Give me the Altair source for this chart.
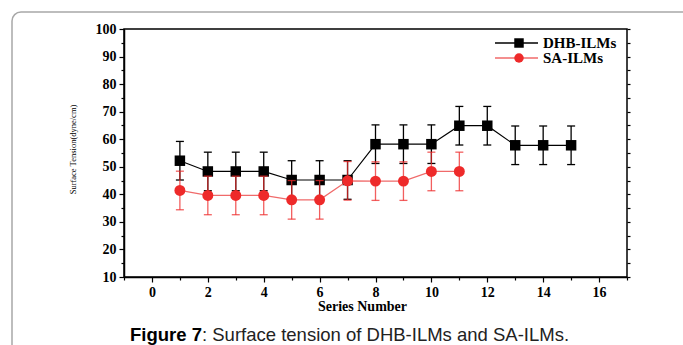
import altair as alt
import pandas as pd

# ---- data ----
dhb_series = [1, 2, 3, 4, 5, 6, 7, 8, 9, 10, 11, 12, 13, 14, 15]
dhb_tension = [52.2, 48.3, 48.3, 48.3, 45.2, 45.2, 45.2, 58.2, 58.2, 58.2, 64.9, 64.9, 57.8, 57.8, 57.8]
dhb_error = [7.0, 7.0, 7.0, 7.0, 7.0, 7.0, 7.0, 7.0, 7.0, 7.0, 7.0, 7.0, 7.0, 7.0, 7.0]

sa_series = [1, 2, 3, 4, 5, 6, 7, 8, 9, 10, 11]
sa_tension = [41.4, 39.6, 39.6, 39.6, 38.0, 38.0, 44.9, 44.8, 44.8, 48.3, 48.3]
sa_error = [7.0, 7.0, 7.0, 7.0, 7.0, 7.0, 7.0, 7.0, 7.0, 7.0, 7.0]

x_ticks = list(range(-1, 18))
y_ticks = list(range(10, 101, 5))
legend_labels = ["DHB-ILMs", "SA-ILMs"]
caption_bold = "Figure 7"
caption_rest = ": Surface tension of DHB-ILMs and SA-ILMs."

dhb = pd.DataFrame({"x": dhb_series, "y": dhb_tension, "e": dhb_error})
dhb["lo"] = dhb["y"] - dhb["e"]
dhb["hi"] = dhb["y"] + dhb["e"]
sa = pd.DataFrame({"x": sa_series, "y": sa_tension, "e": sa_error})
sa["lo"] = sa["y"] - sa["e"]
sa["hi"] = sa["y"] + sa["e"]

W, H = 503, 248
SERIF = "Liberation Serif"
xs = alt.Scale(domain=[-1, 17], nice=False, zero=False)
ys = alt.Scale(domain=[10, 100], nice=False, zero=False)

x_axis = alt.Axis(
    values=x_ticks, title="Series Number",
    labelExpr="datum.value % 2 === 0 && datum.value >= 0 && datum.value <= 16 ? datum.label : ''",
    tickSize={"condition": {"test": "datum.value % 2 === 0", "value": 5}, "value": 3},
    labelFont=SERIF, labelFontWeight="bold", labelFontSize=14, labelColor="black",
    titleFont=SERIF, titleFontWeight="bold", titleFontSize=14, titleColor="black",
    titlePadding=0, titleX=238, labelPadding=3,
    domainColor="black", domainWidth=1.5, tickColor="black", tickWidth=1.2, grid=False,
    labelFlush=False, labelOverlap=False, zindex=1,
)
y_axis = alt.Axis(
    values=y_ticks, title="Surface Tension(dyne/cm)",
    labelExpr="datum.value % 10 === 0 ? datum.label : ''",
    tickSize={"condition": {"test": "datum.value % 10 === 0", "value": 5}, "value": 3},
    labelFont=SERIF, labelFontWeight="bold", labelFontSize=14, labelColor="black",
    titleFont=SERIF, titleFontWeight="normal", titleFontSize=8.5, titleColor="black",
    titlePadding=18, titleY=120,
    domainColor="black", domainWidth=1.5, tickColor="black", tickWidth=1.2, grid=False,
    labelFlush=False, labelOverlap=False, labelPadding=3, zindex=1,
)
y_axis_right = alt.Axis(
    values=y_ticks, orient="right", labels=False, title="", tickSize=3,
    domain=False, tickColor="black", tickWidth=1.2, grid=False, zindex=1,
)

def errbars(df, color, opacity, with_axes=False):
    base = alt.Chart(df)
    xenc = alt.X("x:Q", scale=xs, axis=x_axis if with_axes else None)
    rule = base.mark_rule(color=color, strokeWidth=1.3, opacity=opacity).encode(
        x=xenc,
        y=alt.Y("lo:Q", scale=ys, axis=y_axis if with_axes else None),
        y2="hi:Q",
    )
    cap_lo = base.mark_tick(color=color, orient="horizontal", size=8, thickness=1.3, opacity=opacity).encode(
        x=alt.X("x:Q", scale=xs, axis=None), y=alt.Y("lo:Q", scale=ys, axis=None))
    cap_hi = base.mark_tick(color=color, orient="horizontal", size=8, thickness=1.3, opacity=opacity).encode(
        x=alt.X("x:Q", scale=xs, axis=None), y=alt.Y("hi:Q", scale=ys, axis=None))
    return [rule, cap_lo, cap_hi]

dhb_line = alt.Chart(dhb).mark_line(color="black", strokeWidth=1.2).encode(
    x=alt.X("x:Q", scale=xs, axis=None), y=alt.Y("y:Q", scale=ys, axis=y_axis_right))
dhb_pts = alt.Chart(dhb).mark_point(shape="square", filled=True, color="black", size=110, opacity=1).encode(
    x=alt.X("x:Q", scale=xs, axis=None), y=alt.Y("y:Q", scale=ys, axis=None))
sa_line = alt.Chart(sa).mark_line(color="#f06a6a", strokeWidth=1.3).encode(
    x=alt.X("x:Q", scale=xs, axis=None), y=alt.Y("y:Q", scale=ys, axis=None))
sa_pts = alt.Chart(sa).mark_point(shape="circle", filled=True, color="#ee2a2a", size=120, opacity=1).encode(
    x=alt.X("x:Q", scale=xs, axis=None), y=alt.Y("y:Q", scale=ys, axis=None))

# legend (manual, in the upper right of the plot)
one = alt.Data(values=[{}])
leg_y = [14, 29]
leg_colors_line = ["black", "#f06a6a"]
leg_colors_mark = ["black", "#ee2a2a"]
leg_shapes = ["square", "circle"]
legend_layers = []
for i, lab in enumerate(legend_labels):
    legend_layers.append(alt.Chart(one).mark_rule(color=leg_colors_line[i], strokeWidth=1.3).encode(
        x=alt.value(371), x2=alt.value(414), y=alt.value(leg_y[i])))
    legend_layers.append(alt.Chart(one).mark_point(shape=leg_shapes[i], filled=True, opacity=1,
                                                   color=leg_colors_mark[i], size=90).encode(
        x=alt.value(395), y=alt.value(leg_y[i])))
    legend_layers.append(alt.Chart(one).mark_text(text=lab, align="left", baseline="middle", font=SERIF,
                                                  fontWeight="bold", fontSize=15, color="black").encode(
        x=alt.value(419), y=alt.value(leg_y[i])))

# frame and caption
frame = alt.Chart(one).mark_rect(fill="transparent", stroke="#a8a8a8", strokeWidth=1.5, cornerRadius=9).encode(
    x=alt.value(-112), x2=alt.value(600), y=alt.value(-17), y2=alt.value(340))
cap1 = alt.Chart(one).mark_text(text=caption_bold, align="left", baseline="alphabetic", font="Liberation Sans",
                                fontWeight="bold", fontSize=18.5, color="black").encode(
    x=alt.value(6), y=alt.value(312))
cap2 = alt.Chart(one).mark_text(text=caption_rest, align="left", baseline="alphabetic", font="Liberation Sans",
                                fontWeight="normal", fontSize=18.5, color="#222222").encode(
    x=alt.value(78), y=alt.value(312))

layers = [frame] + errbars(dhb, "black", 1.0, with_axes=True) + [dhb_line, dhb_pts] + \
    errbars(sa, "#ee2a2a", 0.75) + [sa_line, sa_pts] + legend_layers + [cap1, cap2]

chart = alt.layer(*layers).resolve_axis(x="independent", y="independent").properties(
    width=W, height=H, autosize="none",
    padding={"left": 124, "top": 29, "right": 56, "bottom": 68},
    background="white",
).configure_view(stroke="black", strokeWidth=1.5)

chart.save("out.html", embed_options={"renderer": "svg", "actions": False})
